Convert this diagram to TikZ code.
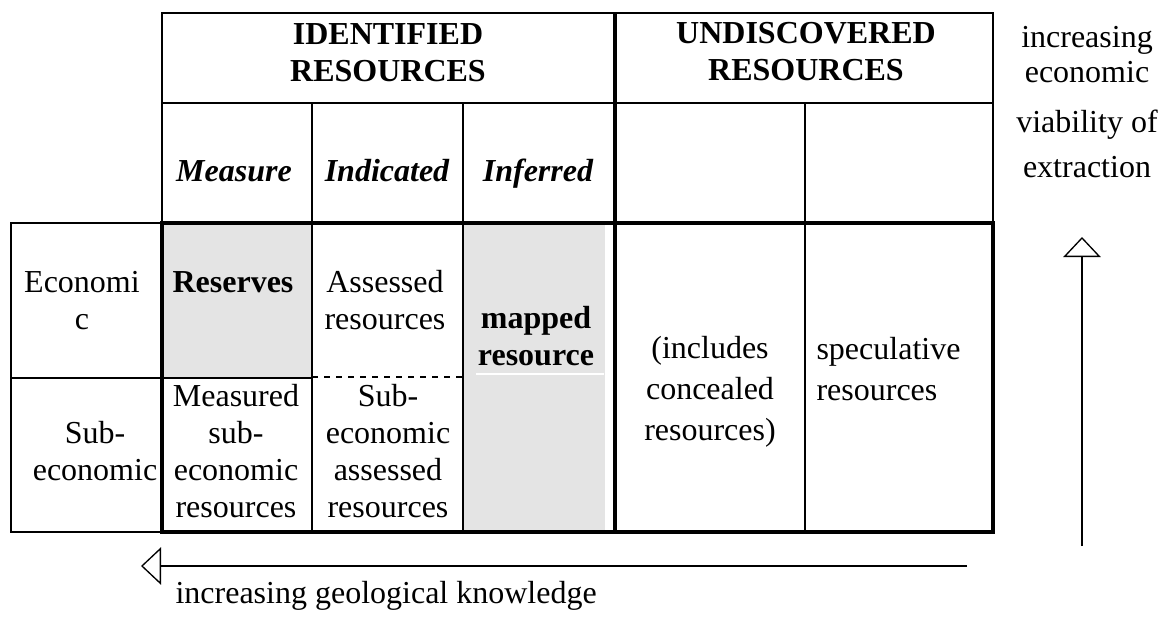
\documentclass[tikz,border=0pt]{standalone}
\usepackage{fontspec}
\setmainfont{Liberation Serif}
\usetikzlibrary{arrows.meta}
\definecolor{cellgrey}{RGB}{228,228,228}
\tikzset{
  gridline/.style={line width=0.5pt},
  boldline/.style={line width=1.5pt},
  cell/.style={inner sep=0pt, anchor=base, align=center, font=\fontsize{12}{13.8}\selectfont},
  loosecell/.style={cell, font=\fontsize{12}{15.2}\selectfont},
  hdr/.style={cell, font=\fontsize{12}{13.6}\selectfont\bfseries},
  grade/.style={cell, font=\fontsize{12}{13.8}\selectfont\bfseries\itshape},
  axisarrow/.style={line width=0.5pt, -{Triangle[open, length=7.5pt, width=14pt]}}
}
\begin{document}
\begin{tikzpicture}[x=0.375pt, y=-0.375pt]
      \useasboundingbox (0,0) rectangle (1163,616);

      % Shade the reserve and mapped cells
      \fill[cellgrey] (162,223) rectangle (312,378);
      \fill[cellgrey] (464,223) rectangle (605,532);
      \draw[white, line width=0.6pt] (476,374) -- (604,374);

      % Draw header grid
      \draw[gridline] (162,223) -- (162,13) -- (993,13) -- (993,223);
      \draw[gridline] (162,103) -- (993,103);
      \draw[gridline] (312,103) -- (312,532);
      \draw[gridline] (463,103) -- (463,532);
      \draw[gridline] (805,103) -- (805,532);

      % Draw economic rows
      \draw[gridline] (11,223) rectangle (162,532);
      \draw[gridline] (11,378) -- (312,378);
      \draw[line width=0.75pt, dash pattern=on 2.25pt off 2.25pt] (312,377) -- (463,377);

      % Draw heavy frame
      \draw[boldline] (162,223) rectangle (993,532);
      \draw[boldline] (615,13) -- (615,532);

      % Add column headings (base = last line)
      \node[hdr] (identified) at (388,81) {IDENTIFIED\\RESOURCES};
      \node[hdr] (undiscovered) at (806,80) {UNDISCOVERED\\RESOURCES};
      \node[grade] (measure) at (234,181) {Measure};
      \node[grade] (indicated) at (387,181) {Indicated};
      \node[grade] (inferred) at (538,181) {Inferred};

      % Add row headings
      \node[cell] (economic) at (82,329) {Economi\\c};
      \node[cell] (subeconomic) at (95,480) {Sub-\\economic};

      % Add cell texts
      \node[cell, font=\fontsize{12}{13.8}\selectfont\bfseries] (reserves) at (233,292) {Reserves};
      \node[cell] (assessed) at (385,329) {Assessed\\resources};
      \node[cell, font=\fontsize{12}{13.8}\selectfont\bfseries] (mapped) at (536,365) {mapped\\resource};
      \node[cell] (measuredsub) at (236,517) {Measured\\sub-\\economic\\resources};
      \node[cell] (assessedsub) at (388,517) {Sub-\\economic\\assessed\\resources};
      \node[loosecell] (concealed) at (710,440) {(includes\\concealed\\resources)};
      \node[loosecell, anchor=base west, align=left] (speculative) at (816,400) {speculative\\resources};

      % Add axis labels
      \node[cell] (viab1) at (1087,47) {increasing};
      \node[cell] (viab2) at (1087,82) {economic};
      \node[cell] (viab3) at (1087,132) {viability of};
      \node[cell] (viab4) at (1087,177) {extraction};
      \node[cell, anchor=base west] (geoknow) at (175,603) {increasing geological knowledge};

      % Draw axis arrows
      \coordinate (gk-tail) at (967,566);
      \coordinate (gk-tip) at (141,566);
      \coordinate (ev-tail) at (1082,546);
      \coordinate (ev-tip) at (1082,237);
      \draw[axisarrow] (gk-tail) -- (gk-tip);
      \draw[axisarrow] (ev-tail) -- (ev-tip);
\end{tikzpicture}
\end{document}
